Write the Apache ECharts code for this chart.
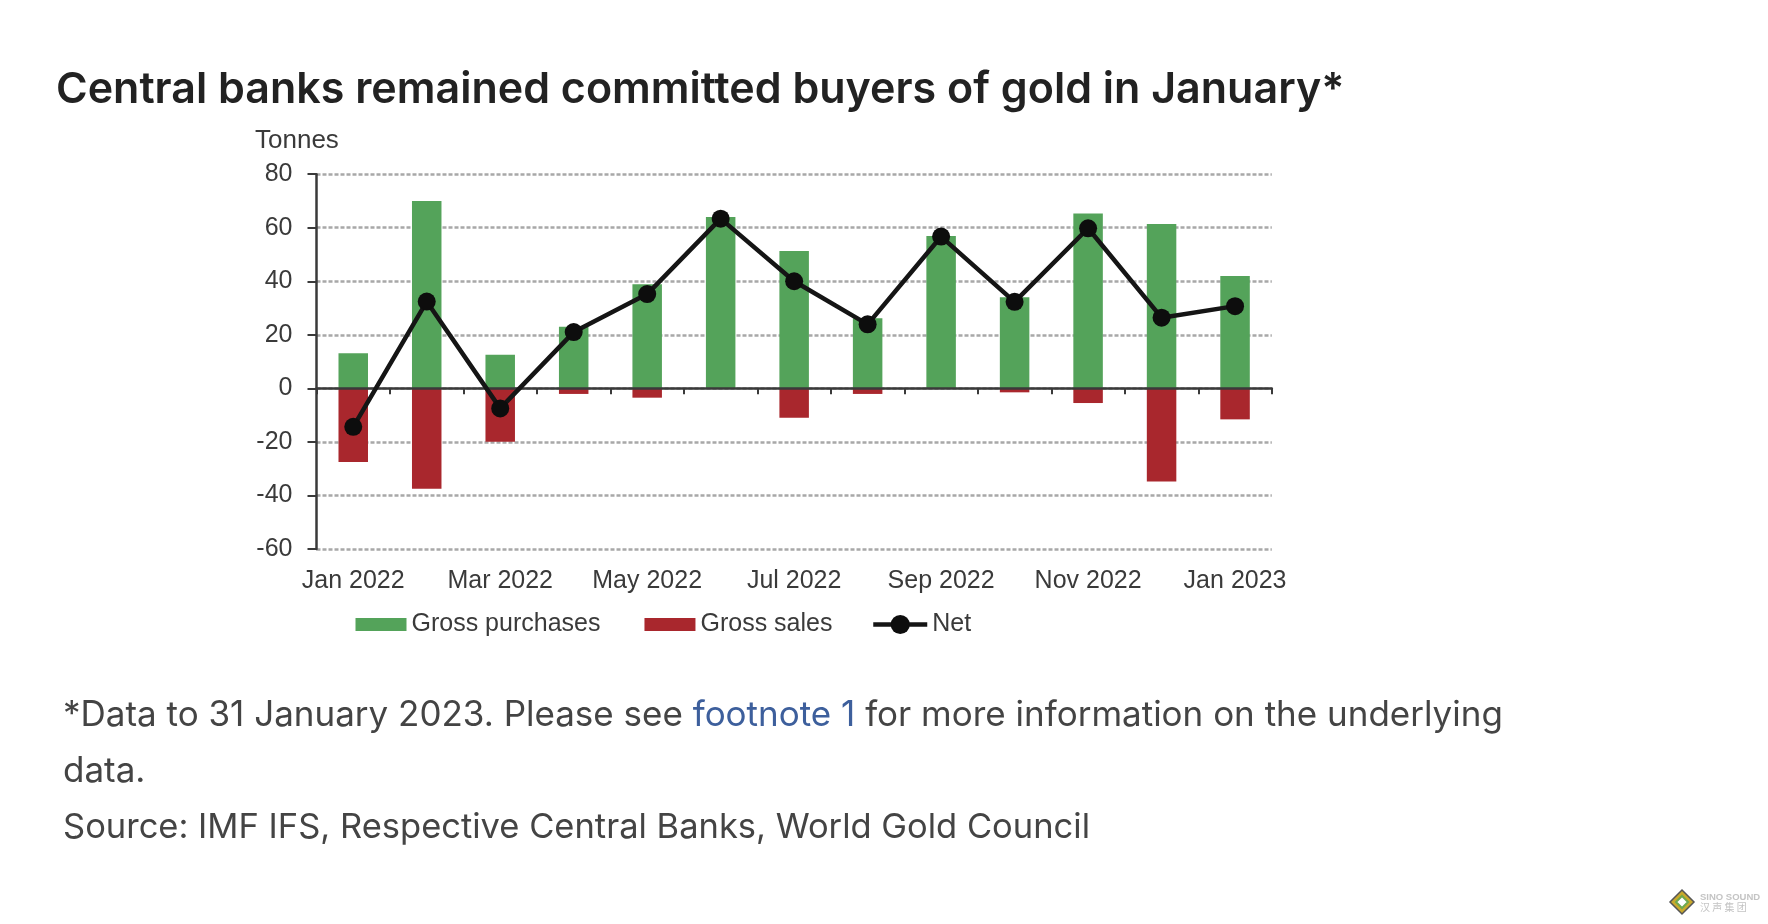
<!DOCTYPE html>
<html>
<head>
<meta charset="utf-8">
<title>Central banks gold buying</title>
<style>
  html, body { margin: 0; padding: 0; background: #fff; }
  #chart { width: 1768px; height: 924px; }
</style>
<script src="https://cdn.jsdelivr.net/npm/echarts@6/dist/echarts.min.js"></script>
</head>
<body>
<div id="chart"></div>
<script>
const months = ['Jan 2022', 'Feb 2022', 'Mar 2022', 'Apr 2022', 'May 2022', 'Jun 2022', 'Jul 2022',
  'Aug 2022', 'Sep 2022', 'Oct 2022', 'Nov 2022', 'Dec 2022', 'Jan 2023'];
const grossPurchases = [13.1, 70, 12.5, 23, 38.9, 64, 51.3, 26.2, 56.9, 34, 65.3, 61.4, 42];
const grossSales = [-27.5, -37.5, -20, -2.1, -3.5, 0, -11, -2.1, 0, -1.5, -5.5, -34.8, -11.6];
const net = [-14.4, 32.4, -7.5, 21, 35.2, 63.4, 40, 23.9, 56.7, 32.3, 59.8, 26.4, 30.7];

const chartFont = '"Liberation Sans", sans-serif';
const textFont = 'Inter, "Open Sans", sans-serif';
const inkGrey = '#3a3a3a';

const myChart = echarts.init(document.getElementById('chart'), null, { renderer: 'canvas' });

const bodyStyle = { fontFamily: textFont, fontSize: 35, fill: '#444' };
const legendText = { fontFamily: chartFont, fontSize: 25, color: inkGrey };

myChart.setOption({
  animation: false,
  backgroundColor: '#fff',
  grid: { left: 316.5, right: 496.2, top: 174.2, height: 374.7 },
  legend: [
    {
      left: 350.5,
      top: 607,
      itemWidth: 51,
      itemHeight: 13,
      itemGap: 44,
      textStyle: legendText,
      data: [{ name: 'Gross purchases', icon: 'rect' }, { name: 'Gross sales', icon: 'rect' }]
    },
    {
      left: 866,
      top: 607,
      itemWidth: 54,
      itemHeight: 24,
      lineStyle: { width: 4.5 },
      textStyle: legendText,
      data: ['Net']
    }
  ],
  xAxis: [
    {
      type: 'category',
      data: months,
      z: 3,
      axisLine: { onZero: true, lineStyle: { color: inkGrey, width: 2.5 } },
      axisTick: { show: true, interval: 0, length: 6, lineStyle: { color: inkGrey, width: 2 } },
      axisLabel: { show: false }
    },
    {
      type: 'category',
      data: months,
      position: 'bottom',
      axisLine: { show: false, onZero: false },
      axisTick: { show: false },
      axisLabel: { interval: 1, margin: 20, fontFamily: chartFont, fontSize: 25, color: inkGrey }
    }
  ],
  yAxis: {
    type: 'value',
    min: -60,
    max: 80,
    interval: 20,
    axisLine: { show: true, lineStyle: { color: inkGrey, width: 2.5 } },
    axisTick: { show: true, length: 9, lineStyle: { color: inkGrey, width: 2 } },
    axisLabel: { margin: 24, fontFamily: chartFont, fontSize: 25, color: inkGrey },
    splitLine: { show: true, lineStyle: { color: '#a8a8a8', width: 2.5, type: [4, 2] } }
  },
  series: [
    { name: 'Gross purchases', type: 'bar', stack: 'gross', barWidth: 29.5, itemStyle: { color: '#54a35a' }, data: grossPurchases },
    { name: 'Gross sales', type: 'bar', stack: 'gross', barWidth: 29.5, itemStyle: { color: '#a9272d' }, data: grossSales },
    {
      name: 'Net',
      type: 'line',
      z: 5,
      symbol: 'circle',
      symbolSize: 18,
      itemStyle: { color: '#0d0d0d' },
      lineStyle: { color: '#151515', width: 4.5 },
      data: net
    }
  ],
  graphic: [
    { type: 'text', left: 56, top: 69, style: { text: 'Central banks remained committed buyers of gold in January*', fontFamily: textFont, fontWeight: 600, fontSize: 43, fill: '#222' } },
    { type: 'text', left: 255, top: 128, style: { text: 'Tonnes', fontFamily: chartFont, fontSize: 26, fill: inkGrey } },
    {
      type: 'text', left: 63, top: 698,
      style: {
        text: '{a|*Data to 31 January 2023. Please see }{b|footnote 1}{a| for more information on the underlying}',
        rich: {
          a: bodyStyle,
          b: { fontFamily: textFont, fontSize: 35, fill: '#3d5f9c' }
        }
      }
    },
    { type: 'text', left: 63, top: 754, style: { text: 'data.', ...bodyStyle } },
    { type: 'text', left: 63, top: 810, style: { text: 'Source: IMF IFS, Respective Central Banks, World Gold Council', ...bodyStyle, fontSize: 34.5 } },
    // watermark logo, bottom right
    {
      type: 'polygon', z: 10,
      shape: { points: [[1682, 890], [1694, 902], [1682, 914], [1670, 902]] },
      style: { fill: '#c9a92c', stroke: '#555', lineWidth: 1.5 }
    },
    {
      type: 'polygon', z: 11,
      shape: { points: [[1682, 896], [1688, 902], [1682, 908], [1676, 902]] },
      style: { fill: '#fff', stroke: '#6ea84f', lineWidth: 2 }
    },
    { type: 'text', z: 10, left: 1700, top: 892, style: { text: 'SINO SOUND', fontFamily: 'Liberation Sans', fontWeight: 700, fontSize: 9.5, fill: '#c4c4c4' } },
    { type: 'text', z: 10, left: 1700, top: 902, style: { text: '汉 声 集 团', fontFamily: '"Noto Sans CJK SC"', fontSize: 10, fill: '#c4c4c4' } }
  ]
});

window.addEventListener('resize', () => myChart.resize());
</script>
</body>
</html>
